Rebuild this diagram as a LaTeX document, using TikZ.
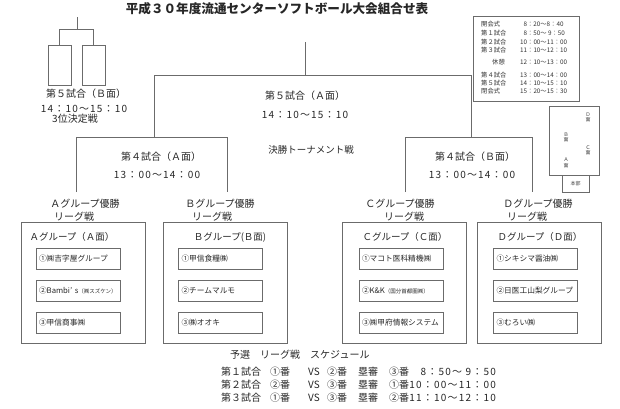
\documentclass[tikz,border=0pt]{standalone}
\usepackage{fontspec}
\setmainfont{Noto Sans CJK JP}
\newfontfamily\spacedfont[LetterSpace=12]{Noto Sans CJK JP}
\usetikzlibrary{positioning}
\definecolor{linegray}{gray}{0.42}
\tikzset{
	ln/.style={draw=linegray, line width=0.7pt},
	tx/.style={inner sep=0pt, text=black!85, font=\fontsize{10}{12}\selectfont},
	tm/.style={inner sep=0pt, text=black!85, font=\spacedfont\fontsize{10}{12}\selectfont},
	team/.style={ln, minimum width=84pt, minimum height=21pt, text width=78pt, inner sep=3pt, align=left, text=black!85, font=\fontsize{7.7}{9}\selectfont},
	grp/.style={ln, minimum width=124pt, minimum height=121pt, inner sep=0pt},
	sched/.style={inner sep=0pt, anchor=west, text=black!80, font=\fontsize{6.3}{7}\selectfont},
	court/.style={inner sep=0pt, align=center, text=black!75, font=\fontsize{5}{5.5}\selectfont}
}
\def\sm#1{{\fontsize{5.5}{6}\selectfont #1}}

\begin{document}
\begin{tikzpicture}[x=1pt, y=-1pt]
			%%%%% START %%%%%
			\useasboundingbox (0,0) rectangle (620,408);
			
			\node[tx, font=\bfseries\fontsize{12.6}{15}\selectfont] (title) at (277,9) {平成３０年度流通センターソフトボール大会組合せ表};
			
			% 3rd place
			\draw[ln] (77,17) -- (77,29);
			\draw[ln] (59,45) -- (59,29) -- (93,29) -- (93,45);
			\draw[ln] (48,45) rectangle (71,85);
			\draw[ln] (82,45) rectangle (105,85);
			\node[tx] (m5b) at (86,94) {第５試合（Ｂ面）};
			\node[tm] (m5btime) at (84,109) {14：10〜15：10};
			\node[tx] (third) at (75,119) {3位決定戦};
			
			% final
			\draw[ln] (305,42) -- (305,75);
			\draw[ln] (154,137) -- (154,75) -- (471,75) -- (471,137);
			\draw[ln] (76,192) -- (76,137) -- (227,137) -- (227,192);
			\draw[ln] (405,192) -- (405,137) -- (532,137) -- (532,192);
			\node[tx] (m5a) at (305,96) {第５試合（Ａ面）};
			\node[tm] (m5atime) at (305,115) {14：10〜15：10};
			\node[tx, font=\fontsize{9.5}{11}\selectfont] (final) at (311,150) {決勝トーナメント戦};
			\node[tx] (m4a) at (161,157) {第４試合（Ａ面）};
			\node[tm] (m4atime) at (157,175) {13：00〜14：00};
			\node[tx] (m4b) at (475,157) {第４試合（Ｂ面）};
			\node[tm] (m4btime) at (472,175) {13：00〜14：00};
			
			\node[tx] (wina) at (85,204) {Ａグループ優勝};
			\node[tx] (leaguea) at (74,217) {リーグ戦};
			\node[tx] (winb) at (220,204) {Ｂグループ優勝};
			\node[tx] (leagueb) at (212,217) {リーグ戦};
			\node[tx] (winc) at (400,204) {Ｃグループ優勝};
			\node[tx] (leaguec) at (404,217) {リーグ戦};
			\node[tx] (wind) at (538,204) {Ｄグループ優勝};
			\node[tx] (leagued) at (527,217) {リーグ戦};
			
			% groups
			\node[grp] (ga) at (83,282.5) {};
			\node[grp] (gb) at (225,282.5) {};
			\node[grp] (gc) at (404.5,282.5) {};
			\node[grp] (gd) at (539.5,282.5) {};
			\node[tx, font=\fontsize{9.5}{11}\selectfont] (ta) at (72,237) {Ａグループ（Ａ面）};
			\node[tx, font=\fontsize{9.5}{11}\selectfont] (tb) at (230,237) {Ｂグループ(Ｂ面)};
			\node[tx, font=\fontsize{9.5}{11}\selectfont] (tc) at (405,237) {Ｃグループ（Ｃ面）};
			\node[tx, font=\fontsize{9.5}{11}\selectfont] (td) at (540,237) {Ｄグループ（Ｄ面）};
			
			\node[team] (a1) at (78,258.5) {①㈱吉字屋グループ};
			\node[team] (a2) at (78,291) {②Bambi’ s\sm{（㈱スズケン）}};
			\node[team] (a3) at (78,323) {③甲信商事㈱};
			\node[team] (b1) at (220.5,258.5) {①甲信食糧㈱};
			\node[team] (b2) at (220.5,291) {②チームマルモ};
			\node[team] (b3) at (220.5,323) {③㈱オオキ};
			\node[team] (c1) at (401,258.5) {①マコト医科精機㈱};
			\node[team] (c2) at (401,291) {②K\&K\sm{（国分首都圏㈱）}};
			\node[team] (c3) at (401,323) {③㈱甲府情報システム};
			\node[team] (d1) at (535.5,258.5) {①シキシマ醤油㈱};
			\node[team] (d2) at (535.5,291) {②日医工山梨グループ};
			\node[team] (d3) at (535.5,323) {③むろい㈱};
			
			% timetable
			\draw[ln] (473,16) rectangle (579,101);
			\node[sched] (s1) at (481,24) {開会式};
			\node[sched] (s2) at (481,33) {第１試合};
			\node[sched] (s3) at (481,42) {第２試合};
			\node[sched] (s4) at (481,50) {第３試合};
			\node[sched] (s5) at (492,62) {休憩};
			\node[sched] (s6) at (481,75) {第４試合};
			\node[sched] (s7) at (481,83) {第５試合};
			\node[sched] (s8) at (481,91) {閉会式};
			\node[sched] (t1) at (522,24) {\ 8：20〜8：40};
			\node[sched] (t2) at (522,33) {\ 8：50〜 9：50};
			\node[sched] (t3) at (520,42) {10：00〜11：00};
			\node[sched] (t4) at (520,50) {11：10〜12：10};
			\node[sched] (t5) at (520,62) {12：10〜13：00};
			\node[sched] (t6) at (520,75) {13：00〜14：00};
			\node[sched] (t7) at (520,83) {14：10〜15：10};
			\node[sched] (t8) at (520,91) {15：20〜15：30};
			
			% courts
			\draw[ln, line width=0.5pt] (549,106) rectangle (599,175);
			\draw[ln, line width=0.5pt] (562,175) rectangle (589,192);
			\node[court] (cd) at (588,117.5) {Ｄ\\面};
			\node[court] (cb) at (566,137.5) {Ｂ\\面};
			\node[court] (cc) at (588,150.5) {Ｃ\\面};
			\node[court] (ca) at (566,163) {Ａ\\面};
			\node[court] (hq) at (575.5,183.5) {本部};
			
			% league schedule
			\node[tx, anchor=west] (lh) at (230,355) {予選　リーグ戦　スケジュール};
			\node[tx, anchor=west] (r1) at (221,372) {第１試合};
			\node[tx, anchor=west] (r1a) at (270,372) {①番};
			\node[tx, anchor=west] (r1v) at (308,372) {VS};
			\node[tx, anchor=west] (r1b) at (327,372) {②番};
			\node[tx, anchor=west] (r1u) at (358,372) {塁審};
			\node[tx, anchor=west] (r1c) at (389,372) {③番};
			\node[tm, anchor=east] (r1t) at (496,372) {8：50〜 9：50};
			\node[tx, anchor=west] (r2) at (221,385) {第２試合};
			\node[tx, anchor=west] (r2a) at (270,385) {②番};
			\node[tx, anchor=west] (r2v) at (308,385) {VS};
			\node[tx, anchor=west] (r2b) at (327,385) {③番};
			\node[tx, anchor=west] (r2u) at (358,385) {塁審};
			\node[tx, anchor=west] (r2c) at (389,385) {①番};
			\node[tm, anchor=east] (r2t) at (496,385) {10：00〜11：00};
			\node[tx, anchor=west] (r3) at (221,398) {第３試合};
			\node[tx, anchor=west] (r3a) at (270,398) {①番};
			\node[tx, anchor=west] (r3v) at (308,398) {VS};
			\node[tx, anchor=west] (r3b) at (327,398) {③番};
			\node[tx, anchor=west] (r3u) at (358,398) {塁審};
			\node[tx, anchor=west] (r3c) at (389,398) {②番};
			\node[tm, anchor=east] (r3t) at (496,398) {11：10〜12：10};
			%%%%% END %%%%%
		\end{tikzpicture}
\end{document}
